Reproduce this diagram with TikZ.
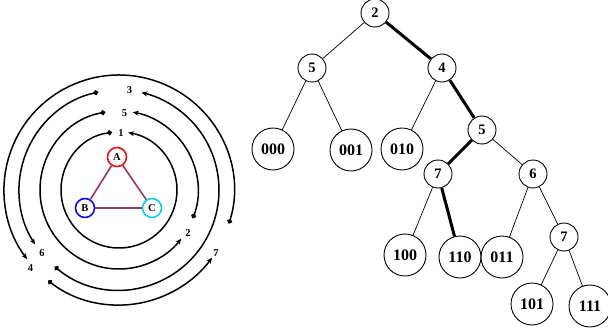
\documentclass[tikz,border=0pt]{standalone}
\usepackage{fontspec}
\setmainfont{Liberation Serif}
\usetikzlibrary{arrows.meta,calc}
\definecolor{edgepurple}{HTML}{993366}
\definecolor{nodeA}{HTML}{EE1111}
\definecolor{nodeB}{HTML}{1111DD}
\definecolor{nodeC}{HTML}{11CCEE}
\begin{document}
\begin{tikzpicture}[x=1pt,y=1pt,
  inode/.style={circle,draw,line width=0.9pt,minimum size=28pt,inner sep=0pt,font=\fontsize{14.5}{14.5}\selectfont\bfseries},
  leaf/.style={circle,draw,line width=0.9pt,minimum size=42pt,inner sep=0pt,font=\fontsize{16}{16}\selectfont\bfseries},
  thin/.style={line width=0.7pt},
  thick/.style={line width=3pt},
  abc/.style={circle,draw,line width=1.6pt,minimum size=19pt,inner sep=0pt,font=\fontsize{10.5}{10.5}\selectfont\bfseries},
  tri/.style={edgepurple,line width=1.6pt},
  ring/.style={line width=1.5pt,{Circle[length=5pt]}-{Stealth[length=6pt,width=5pt]}},
  num/.style={font=\fontsize{10.5}{10.5}\selectfont\bfseries,inner sep=0pt}]
\useasboundingbox (0,0) rectangle (608,-332);
% ---------- left diagram ----------
\coordinate (O) at (119,-190);
\node[abc,draw=nodeA] (A) at (117,-157) {A};
\node[abc,draw=nodeB] (B) at (85,-208) {B};
\node[abc,draw=nodeC] (C) at (152,-208) {C};
\draw[tri] (A) -- (B);
\draw[tri] (B) -- (C);
\draw[tri] (C) -- (A);
\coordinate (s1) at ($(O)+(97:58)$);
\coordinate (s2) at ($(O)+(100:79)$);
\coordinate (s3) at ($(O)+(230:100)$);
\coordinate (s4) at ($(O)+(-17:115)$);
\coordinate (s5) at ($(O)+(-21:79)$);
\coordinate (s6) at ($(O)+(102:100)$);
\coordinate (s7) at ($(O)+(232:115)$);
\draw[ring] (s1) arc[start angle=97,end angle=441,radius=58];
\draw[ring] (s2) arc[start angle=100,end angle=322,radius=79];
\draw[ring] (s3) arc[start angle=230,end angle=437,radius=100];
\draw[ring] (s4) arc[start angle=-17,end angle=217,radius=115];
\draw[ring] (s5) arc[start angle=-21,end angle=80,radius=79];
\draw[ring] (s6) arc[start angle=102,end angle=213,radius=100];
\draw[ring] (s7) arc[start angle=232,end angle=324,radius=115];
\node[num] (lab1) at (121,-133.5) {1};
\node[num] (lab2) at (188,-233.5) {2};
\node[num] (lab3) at (129.5,-90.5) {3};
\node[num] (lab4) at (30.5,-268) {4};
\node[num] (lab5) at (124.5,-113) {5};
\node[num] (lab6) at (42,-253.5) {6};
\node[num] (lab7) at (216,-253.5) {7};
% ---------- tree ----------
\node[inode] (n2) at (375,-13) {2};
\node[inode] (n5a) at (312,-68) {5};
\node[inode] (n4) at (442,-68) {4};
\node[leaf] (l000) at (273,-149) {000};
\node[leaf] (l001) at (351,-150) {001};
\node[leaf] (l010) at (402,-149) {010};
\node[inode] (n5b) at (482,-130) {5};
\node[inode] (n7a) at (438,-174) {7};
\node[inode] (n6) at (533,-174) {6};
\node[leaf] (l100) at (405,-255) {100};
\node[leaf] (l110) at (460,-257) {110};
\node[leaf] (l011) at (502,-257) {011};
\node[inode] (n7b) at (564,-237) {7};
\node[leaf] (l101) at (532,-304) {101};
\node[leaf] (l111) at (590,-306) {111};
\draw[thin] (n2) -- (n5a);
\draw[thick] (n2) -- (n4);
\draw[thin] (n5a) -- (l000);
\draw[thin] (n5a) -- (l001);
\draw[thin] (n4) -- (l010);
\draw[thick] (n4) -- (n5b);
\draw[thick] (n5b) -- (n7a);
\draw[thin] (n5b) -- (n6);
\draw[thin] (n7a) -- (l100);
\draw[thick] (n7a) -- (l110);
\draw[thin] (n6) -- (l011);
\draw[thin] (n6) -- (n7b);
\draw[thin] (n7b) -- (l101);
\draw[thin] (n7b) -- (l111);
\end{tikzpicture}
\end{document}
